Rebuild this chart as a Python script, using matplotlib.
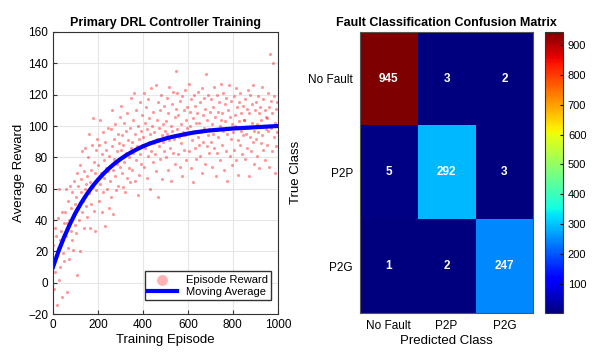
import numpy as np
import matplotlib
matplotlib.use("Agg")
import matplotlib.pyplot as plt

plt.rcParams['font.family'] = ['Liberation Sans', 'DejaVu Sans']

# --- DRL training data ---
BIN_STARTS = [0, 50, 100, 150, 200, 250, 300, 350, 400, 450,
              500, 550, 600, 650, 700, 750, 800, 850, 900, 950]
EPISODE_OFFSETS = [1, 3, 6, 8, 11, 13, 16, 18, 21, 23,
                   26, 28, 31, 33, 36, 38, 41, 43, 46, 48]
REWARDS_BY_BIN = [
    [24, -4, 12, 35, 7, 30, -14, 18, 41, 22, 2, 60, 27, 10, 33, -9, 45, 19, 28, 38],
    [14, 45, 30, 60, -6, 38, 22, 52, 40, 15, 62, 33, 48, 27, 58, 43, 21, 65, 37, 50],
    [55, 32, 70, 5, 48, 62, 40, 75, 20, 58, 66, 45, 84, 52, 35, 71, 60, 86, 49, 63],
    [68, 42, 80, 57, 95, 35, 64, 72, 50, 88, 61, 105, 46, 77, 70, 33, 85, 59, 92, 66],
    [75, 52, 88, 63, 104, 70, 45, 82, 96, 58, 78, 67, 90, 36, 73, 85, 60, 99, 71, 48],
    [81, 65, 98, 55, 87, 110, 72, 44, 92, 79, 68, 101, 59, 84, 76, 95, 62, 89, 74, 106],
    [85, 113, 70, 94, 61, 88, 102, 77, 58, 97, 83, 108, 67, 91, 80, 73, 99, 64, 86, 118],
    [90, 72, 104, 83, 121, 65, 95, 78, 110, 87, 56, 100, 92, 69, 115, 82, 97, 76, 107, 88],
    [93, 121, 74, 102, 86, 112, 67, 98, 81, 117, 90, 105, 60, 95, 124, 84, 100, 77, 109, 89],
    [96, 82, 126, 71, 104, 92, 115, 55, 99, 87, 110, 79, 120, 94, 66, 101, 90, 113, 84, 97],
    [103, 80, 118, 95, 72, 108, 91, 125, 86, 100, 65, 114, 97, 83, 122, 92, 106, 76, 111, 135],
    [98, 121, 82, 107, 93, 116, 74, 101, 89, 119, 68, 96, 110, 85, 123, 94, 104, 78, 112, 99],
    [95, 127, 84, 109, 100, 73, 117, 91, 105, 64, 120, 97, 86, 113, 102, 79, 108, 93, 122, 88],
    [102, 81, 115, 96, 124, 70, 107, 90, 118, 99, 76, 111, 133, 87, 104, 94, 120, 83, 98, 109],
    [90, 117, 101, 74, 112, 95, 125, 86, 106, 68, 98, 120, 83, 109, 93, 115, 100, 78, 104, 127],
    [108, 88, 121, 97, 72, 114, 103, 84, 118, 95, 65, 110, 99, 126, 81, 106, 92, 116, 75, 101],
    [96, 119, 85, 107, 100, 124, 78, 112, 91, 69, 115, 103, 88, 121, 97, 108, 82, 113, 94, 104],
    [104, 79, 117, 95, 111, 86, 123, 99, 68, 108, 93, 120, 84, 102, 114, 90, 126, 97, 76, 110],
    [92, 115, 101, 81, 119, 96, 108, 73, 112, 89, 104, 125, 94, 117, 85, 100, 110, 78, 106, 98],
    [105, 88, 121, 97, 112, 74, 146, 99, 116, 84, 108, 140, 93, 119, 70, 102, 111, 87, 115, 96],
]

MA_EPISODES = [0, 25, 50, 75, 100, 125, 150, 175, 200, 225, 250, 275, 300, 325,
               350, 375, 400, 425, 450, 475, 500, 525, 550, 575, 600, 625, 650,
               675, 700, 725, 750, 775, 800, 825, 850, 875, 900, 925, 950, 975, 1000]
MA_VALUES = [10, 20.3, 29.3, 37.3, 44.5, 50.8, 56.4, 61.4, 65.7, 69.6, 73.1, 76.2,
             78.9, 81.3, 83.4, 85.3, 87.0, 88.5, 89.8, 90.9, 92.0, 92.9, 93.7, 94.4,
             95.2, 95.8, 96.3, 96.8, 97.2, 97.5, 97.8, 98.1, 98.4, 98.6, 98.8, 99.0,
             99.2, 99.4, 99.6, 99.8, 100.0]

# --- confusion matrix ---
CLASSES = ['No Fault', 'P2P', 'P2G']
CONFUSION = [[945, 3, 2],
             [5, 292, 3],
             [1, 2, 247]]
CBAR_TICKS = [100, 200, 300, 400, 500, 600, 700, 800, 900]

episodes = []
rewards = []
for start, vals in zip(BIN_STARTS, REWARDS_BY_BIN):
    for off, v in zip(EPISODE_OFFSETS, vals):
        episodes.append(start + off)
        rewards.append(v)

fig = plt.figure(figsize=(6.16, 3.59), dpi=100)

# left: training curve
ax = fig.add_axes([0.086, 0.125, 0.365, 0.786])
ax.scatter(episodes, rewards, s=5, color='#ff0000', alpha=0.4, linewidths=0,
           label='Episode Reward')
ax.plot(MA_EPISODES, MA_VALUES, color='#0000ff', lw=3, label='Moving Average')
ax.set_xlim(0, 1000)
ax.set_ylim(-20, 160)
ax.set_xticks(range(0, 1001, 200))
ax.set_yticks(range(-20, 161, 20))
ax.grid(True, color='#e6e6e6', lw=0.8)
ax.set_axisbelow(True)
ax.tick_params(direction='in', labelsize=8.5, length=3, color='#333333')
for sp in ax.spines.values():
    sp.set_color('#333333')
    sp.set_linewidth(0.8)
ax.set_title('Primary DRL Controller Training', fontsize=9, fontweight='bold', pad=4)
ax.set_xlabel('Training Episode', fontsize=9.5, labelpad=2)
ax.set_ylabel('Average Reward', fontsize=9.5, labelpad=2)
leg = ax.legend(loc='lower right', fontsize=8, fancybox=False, framealpha=1,
                edgecolor='#333333', markerscale=3.5, handlelength=2.6,
                borderpad=0.3, labelspacing=0.2, bbox_to_anchor=(0.995, 0.03))
leg.legend_handles[0].set_alpha(0.3)

# right: confusion matrix
ax2 = fig.add_axes([0.584, 0.128, 0.282, 0.783])
cm = np.array(CONFUSION)
im = ax2.imshow(cm, cmap='jet', vmin=1, vmax=945, aspect='auto')
for i in range(len(CLASSES)):
    for j in range(len(CLASSES)):
        ax2.text(j, i, str(CONFUSION[i][j]), ha='center', va='center',
                 color='white', fontsize=8.5, fontweight='bold')
ax2.set_xticks(range(len(CLASSES)))
ax2.set_yticks(range(len(CLASSES)))
ax2.set_xticklabels(CLASSES)
ax2.set_yticklabels(CLASSES)
ax2.tick_params(length=0, labelsize=8.5, pad=5)
for sp in ax2.spines.values():
    sp.set_color('#555555')
    sp.set_linewidth(0.8)
ax2.set_title('Fault Classification Confusion Matrix', fontsize=9,
              fontweight='bold', pad=4)
ax2.set_xlabel('Predicted Class', fontsize=9.5, labelpad=2)
ax2.set_ylabel('True Class', fontsize=9.5, labelpad=4)

cax = fig.add_axes([0.885, 0.128, 0.029, 0.783])
cb = fig.colorbar(im, cax=cax, ticks=CBAR_TICKS)
cb.ax.tick_params(labelsize=8, direction='in', length=2.5)
cb.outline.set_edgecolor('#333333')
cb.outline.set_linewidth(0.8)

fig.savefig('out.png', dpi=100)
